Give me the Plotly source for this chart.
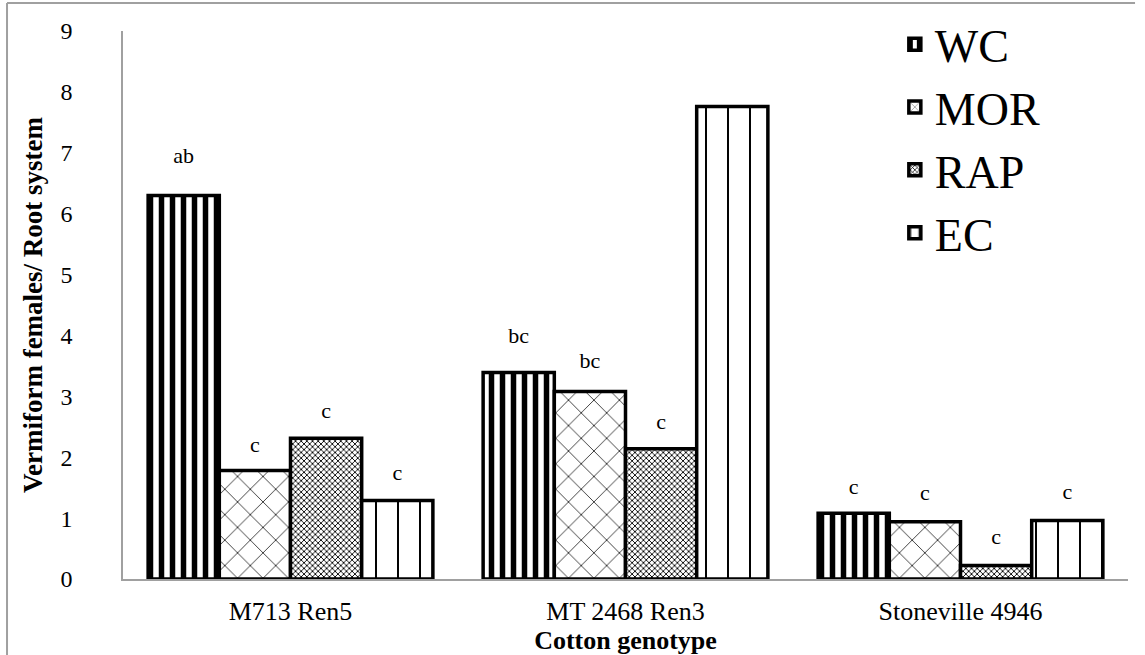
import plotly.graph_objects as go

categories = ["M713 Ren5", "MT 2468 Ren3", "Stoneville 4946"]
series_names = ["WC", "MOR", "RAP", "EC"]
wc = [6.30, 3.39, 1.08]
mor = [1.78, 3.08, 0.94]
rap = [2.31, 2.14, 0.22]
ec = [1.29, 7.76, 0.96]
letters_wc = ["ab", "bc", "c"]
letters_mor = ["c", "bc", "c"]
letters_rap = ["c", "c", "c"]
letters_ec = ["c", "a", "c"]
# heights (in axis units) at which the significance letters sit
label_y_wc = [6.93, 3.96, 1.49]
label_y_mor = [2.17, 3.55, 1.38]
label_y_rap = [2.73, 2.56, 0.67]
label_y_ec = [1.71, 9.15, 1.40]
y_ticks = list(range(0, 10))

values = [wc, mor, rap, ec]
letters = [letters_wc, letters_mor, letters_rap, letters_ec]
label_ys = [label_y_wc, label_y_mor, label_y_rap, label_y_ec]

patterns = [
    dict(shape="|", size=11, solidity=0.5),
    dict(shape="x", size=18, solidity=0.08),
    dict(shape="x", size=4, solidity=0.4),
    dict(shape="|", size=22, solidity=0.09),
]
for p in patterns:
    p.update(fgcolor="black", bgcolor="white", fillmode="overlay", fgopacity=1)

FONT = "Liberation Serif"

fig = go.Figure()
for name, vals, pat, labs, lys in zip(series_names, values, patterns, letters, label_ys):
    fig.add_trace(go.Bar(
        name=name, x=categories, y=vals,
        marker=dict(color="white", line=dict(color="black", width=3.5), pattern=pat),
        offsetgroup=name,
    ))
    fig.add_trace(go.Scatter(
        x=categories, y=lys, text=labs, mode="text",
        textfont=dict(family=FONT, size=22, color="black"),
        showlegend=False, hoverinfo="skip", offsetgroup=name, cliponaxis=False,
    ))

fig.update_layout(
    width=1145, height=655,
    barmode="group", bargap=0.15, bargroupgap=0,
    scattermode="group",
    plot_bgcolor="white", paper_bgcolor="white",
    margin=dict(l=123, r=17, t=31, b=76, autoexpand=False),
    font=dict(family=FONT, color="black"),
    xaxis=dict(
        showline=True, linecolor="#a0a0a0", linewidth=2, automargin=False,
        ticks="", tickfont=dict(size=26, family=FONT), ticklabelstandoff=8,
        title=dict(text="<b>Cotton genotype</b>", font=dict(size=26, family=FONT), standoff=0),
    ),
    yaxis=dict(
        range=[0, 9], tickvals=y_ticks, showgrid=False, zeroline=False, automargin=False,
        showline=True, linecolor="#a0a0a0", linewidth=1.5,
        ticks="", tickfont=dict(size=24, family=FONT), ticklabelstandoff=44,
        title=dict(text="<b>Vermiform females/ Root system</b>", font=dict(size=27, family=FONT), standoff=10),
    ),
    legend=dict(
        x=0.768, y=0.988, xref="paper", yref="container", xanchor="left", yanchor="top",
        font=dict(size=46, family=FONT), bgcolor="rgba(0,0,0,0)",
        itemwidth=30, tracegroupgap=0,
    ),
    showlegend=True,
)

# outer frame (top and left edges)
fig.add_shape(type="line", xref="paper", yref="paper", x0=-0.1154, x1=1.007, y0=1.051, y1=1.051,
              line=dict(color="#a0a0a0", width=2))
fig.add_shape(type="line", xref="paper", yref="paper", x0=-0.1154, x1=-0.1154, y0=-0.15, y1=1.051,
              line=dict(color="#a0a0a0", width=2))

fig.write_html("out.html", config={"displayModeBar": False},
               post_script="document.body.style.margin='0px';")
